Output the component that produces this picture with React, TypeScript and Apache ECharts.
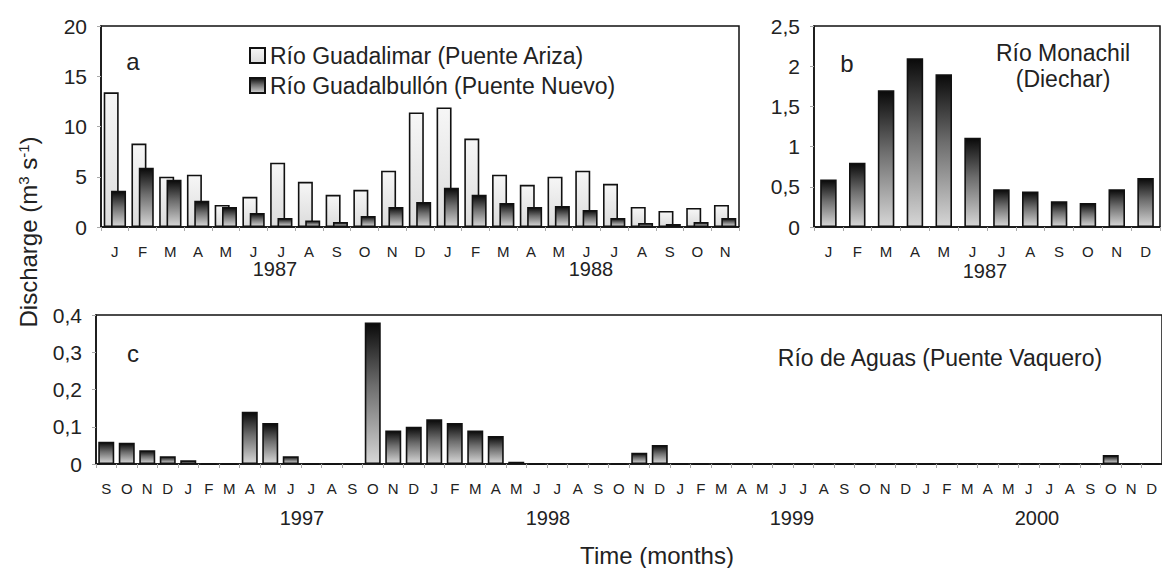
import React, { useEffect, useRef } from "react";
import * as echarts from "echarts";

const monthsA = ["J","F","M","A","M","J","J","A","S","O","N","D","J","F","M","A","M","J","J","A","S","O","N"];
const guadalimar = [13.4, 8.3, 5.0, 5.2, 2.2, 3.0, 6.4, 4.5, 3.2, 3.7, 5.6, 11.4, 11.9, 8.8, 5.2, 4.2, 5.0, 5.6, 4.3, 2.0, 1.6, 1.9, 2.2];
const guadalbullon = [3.6, 5.9, 4.7, 2.6, 2.0, 1.4, 0.9, 0.65, 0.5, 1.1, 2.0, 2.5, 3.9, 3.2, 2.4, 2.0, 2.1, 1.7, 0.9, 0.4, 0.3, 0.5, 0.9];

const monthsB = ["J","F","M","A","M","J","J","A","S","O","N","D"];
const monachil = [0.59, 0.8, 1.7, 2.1, 1.9, 1.11, 0.47, 0.44, 0.32, 0.3, 0.47, 0.61];

const monthsC = [
  "S","O","N","D",
  "J","F","M","A","M","J","J","A","S","O","N","D",
  "J","F","M","A","M","J","J","A","S","O","N","D",
  "J","F","M","A","M","J","J","A","S","O","N","D",
  "J","F","M","A","M","J","J","A","S","O","N","D",
];
const aguas = [
  0.06, 0.057, 0.037, 0.021,
  0.01, 0, 0, 0.14, 0.11, 0.021, 0, 0, 0, 0.38, 0.09, 0.1,
  0.12, 0.11, 0.09, 0.075, 0.006, 0, 0, 0, 0, 0, 0.03, 0.051,
  0, 0, 0, 0, 0, 0, 0, 0, 0, 0, 0, 0,
  0, 0, 0, 0, 0, 0, 0, 0, 0, 0.024, 0, 0,
];

const yearsA = ["1987", "1988"];
const yearsB = ["1987"];
const yearsC = ["1997", "1998", "1999", "2000"];

const FONT = "'Liberation Sans', Arial, sans-serif";
const TXT = "#222";

const darkGrad = () =>
  new echarts.graphic.LinearGradient(0, 0, 0, 1, [
    { offset: 0, color: "#0a0a0a" },
    { offset: 0.45, color: "#6e6e6e" },
    { offset: 1, color: "#d6d6d6" },
  ]);
const lightGrad = () =>
  new echarts.graphic.LinearGradient(0, 0, 0, 1, [
    { offset: 0, color: "#f6f6f6" },
    { offset: 1, color: "#dcdcdc" },
  ]);

const commaFmt = (v: number) => String(+v.toFixed(2)).replace(".", ",");

function xAxisCfg(gridIndex: number, data: string[]) {
  return {
    type: "category",
    gridIndex,
    data,
    axisLine: { lineStyle: { color: "#111", width: 1.5 } },
    axisTick: { show: true, length: 4, lineStyle: { color: "#aaa" } },
    axisLabel: { interval: 0, fontSize: 15, color: TXT, fontFamily: FONT, margin: 17 },
  };
}
function yAxisCfg(gridIndex: number, max: number, interval: number, comma: boolean) {
  return {
    type: "value",
    gridIndex,
    min: 0,
    max,
    interval,
    splitLine: { show: false },
    axisLine: { show: true, lineStyle: { color: "#111", width: 1.5 } },
    axisTick: { show: true, length: 4, lineStyle: { color: "#aaa" } },
    axisLabel: {
      fontSize: 21,
      color: TXT,
      fontFamily: FONT,
      margin: 14,
      formatter: comma ? commaFmt : undefined,
    },
  };
}

export default function App() {
  const ref = useRef<HTMLDivElement>(null);
  useEffect(() => {
    if (!ref.current) return;
    const chart = echarts.init(ref.current, null, { renderer: "svg" });
    const barBorder = { borderColor: "#111", borderWidth: 1.6 };
    const yearText = (label: string, x: number, y: number) => ({
      type: "text",
      x,
      y,
      style: { text: label, fontSize: 20, fill: TXT, fontFamily: FONT, align: "center", verticalAlign: "middle" },
    });
    const option: any = {
      animation: false,
      backgroundColor: "#fff",
      grid: [
        { left: 101, top: 26, width: 638, height: 201, show: true, borderColor: "#111", borderWidth: 1.5 },
        { left: 814, top: 26, width: 346, height: 201, show: true, borderColor: "#111", borderWidth: 1.5 },
        { left: 96, top: 315, width: 1068, height: 149, show: true, borderColor: "#111", borderWidth: 1.5 },
      ],
      xAxis: [xAxisCfg(0, monthsA), xAxisCfg(1, monthsB), xAxisCfg(2, monthsC)],
      yAxis: [yAxisCfg(0, 20, 5, false), yAxisCfg(1, 2.5, 0.5, true), yAxisCfg(2, 0.4, 0.1, true)],
      legend: {
        data: ["Río Guadalimar (Puente Ariza)", "Río Guadalbullón (Puente Nuevo)"],
        orient: "vertical",
        left: 244,
        top: 38,
        icon: "rect",
        itemWidth: 15,
        itemHeight: 15,
        itemGap: 5,
        textStyle: { fontSize: 23, color: TXT, fontFamily: FONT, lineHeight: 25 },
      },
      series: [
        {
          name: "Río Guadalimar (Puente Ariza)",
          type: "bar",
          xAxisIndex: 0,
          yAxisIndex: 0,
          data: guadalimar,
          barWidth: 15,
          barGap: "-51%",
          itemStyle: { color: lightGrad(), ...barBorder },
        },
        {
          name: "Río Guadalbullón (Puente Nuevo)",
          type: "bar",
          xAxisIndex: 0,
          yAxisIndex: 0,
          data: guadalbullon,
          barWidth: 15,
          barGap: "-51%",
          itemStyle: { color: darkGrad(), ...barBorder },
        },
        {
          name: "Río Monachil (Diechar)",
          type: "bar",
          xAxisIndex: 1,
          yAxisIndex: 1,
          data: monachil,
          barWidth: 16.5,
          itemStyle: { color: darkGrad(), ...barBorder },
        },
        {
          name: "Río de Aguas (Puente Vaquero)",
          type: "bar",
          xAxisIndex: 2,
          yAxisIndex: 2,
          data: aguas,
          barWidth: 16,
          itemStyle: { color: darkGrad(), ...barBorder },
        },
      ],
      graphic: [
        { type: "text", x: 133, y: 61, style: { text: "a", fontSize: 24, fill: TXT, fontFamily: FONT, align: "center", verticalAlign: "middle" } },
        { type: "text", x: 847, y: 63, style: { text: "b", fontSize: 24, fill: TXT, fontFamily: FONT, align: "center", verticalAlign: "middle" } },
        { type: "text", x: 133, y: 353, style: { text: "c", fontSize: 24, fill: TXT, fontFamily: FONT, align: "center", verticalAlign: "middle" } },
        {
          type: "text",
          x: 1063,
          y: 66,
          style: { text: "Río Monachil\n(Diechar)", fontSize: 23, lineHeight: 26, fill: TXT, fontFamily: FONT, align: "center", verticalAlign: "middle" },
        },
        {
          type: "text",
          x: 940,
          y: 358,
          style: { text: "Río de Aguas (Puente Vaquero)", fontSize: 23, fill: TXT, fontFamily: FONT, align: "center", verticalAlign: "middle" },
        },
        yearText(yearsA[0], 275, 269),
        yearText(yearsA[1], 591, 269),
        yearText(yearsB[0], 985, 271),
        yearText(yearsC[0], 302, 518),
        yearText(yearsC[1], 548, 518),
        yearText(yearsC[2], 792, 518),
        yearText(yearsC[3], 1037, 518),
        {
          type: "text",
          x: 657,
          y: 555,
          style: { text: "Time (months)", fontSize: 24, fill: TXT, fontFamily: FONT, align: "center", verticalAlign: "middle" },
        },
        {
          type: "text",
          x: 28,
          y: 232,
          rotation: Math.PI / 2,
          style: {
            text: "Discharge (m{sup|3} s{sup|-1})",
            fontSize: 24,
            fill: TXT,
            fontFamily: FONT,
            align: "center",
            verticalAlign: "middle",
            rich: {
              sup: { fontSize: 15, fill: TXT, fontFamily: FONT, verticalAlign: "top", padding: [0, 0, 10, 0] },
            },
          },
        },
      ],
    };
    chart.setOption(option);
    return () => chart.dispose();
  }, []);
  return <div ref={ref} style={{ position: "fixed", left: 0, top: 0, width: 1162, height: 568 }} />;
}
